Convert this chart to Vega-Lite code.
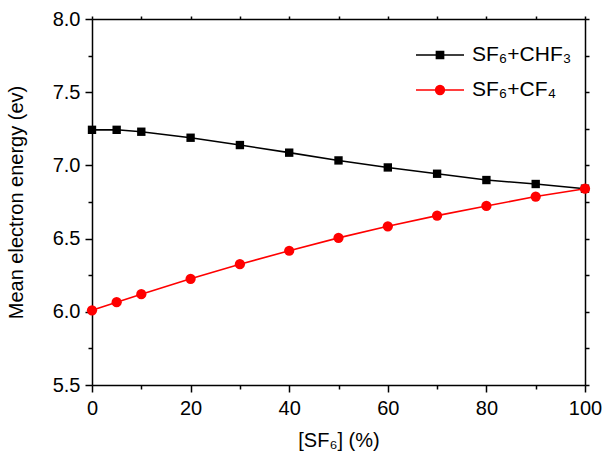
{
  "$schema": "https://vega.github.io/schema/vega-lite/v6.json",
  "width": 493,
  "height": 366,
  "autosize": {"type": "none"},
  "padding": {"left": 92, "top": 19, "right": 20, "bottom": 74},
  "background": "white",
  "config": {
    "view": {"stroke": null},
    "font": "Liberation Sans",
    "axis": {
      "domainColor": "black", "tickColor": "black", "labelColor": "black", "titleColor": "black",
      "labelFont": "Liberation Sans", "titleFont": "Liberation Sans",
      "labelFontSize": 20, "titleFontSize": 20, "titleFontWeight": "normal",
      "grid": false, "domainWidth": 1.5, "tickWidth": 1.5, "labelFlush": false, "labelOverlap": false
    }
  },
  "data": {"values": [
    {"x": 0, "y": 7.243, "s": "SF₆+CHF₃"},
    {"x": 5, "y": 7.243, "s": "SF₆+CHF₃"},
    {"x": 10, "y": 7.23, "s": "SF₆+CHF₃"},
    {"x": 20, "y": 7.189, "s": "SF₆+CHF₃"},
    {"x": 30, "y": 7.139, "s": "SF₆+CHF₃"},
    {"x": 40, "y": 7.087, "s": "SF₆+CHF₃"},
    {"x": 50, "y": 7.034, "s": "SF₆+CHF₃"},
    {"x": 60, "y": 6.986, "s": "SF₆+CHF₃"},
    {"x": 70, "y": 6.943, "s": "SF₆+CHF₃"},
    {"x": 80, "y": 6.9, "s": "SF₆+CHF₃"},
    {"x": 90, "y": 6.873, "s": "SF₆+CHF₃"},
    {"x": 100, "y": 6.841, "s": "SF₆+CHF₃"},
    {"x": 0, "y": 6.01, "s": "SF₆+CF₄"},
    {"x": 5, "y": 6.066, "s": "SF₆+CF₄"},
    {"x": 10, "y": 6.12, "s": "SF₆+CF₄"},
    {"x": 20, "y": 6.225, "s": "SF₆+CF₄"},
    {"x": 30, "y": 6.325, "s": "SF₆+CF₄"},
    {"x": 40, "y": 6.417, "s": "SF₆+CF₄"},
    {"x": 50, "y": 6.505, "s": "SF₆+CF₄"},
    {"x": 60, "y": 6.584, "s": "SF₆+CF₄"},
    {"x": 70, "y": 6.657, "s": "SF₆+CF₄"},
    {"x": 80, "y": 6.723, "s": "SF₆+CF₄"},
    {"x": 90, "y": 6.787, "s": "SF₆+CF₄"},
    {"x": 100, "y": 6.841, "s": "SF₆+CF₄"}
  ]},
  "layer": [
    {
      "mark": {"type": "line", "strokeWidth": 1.6},
      "encoding": {
        "x": {"field": "x", "type": "quantitative", "scale": {"domain": [0, 100], "nice": false},
          "axis": {"orient": "bottom", "values": [0, 20, 40, 60, 80, 100], "tickSize": 7, "labelPadding": 6,
            "title": "[SF₆] (%)", "titlePadding": 12}},
        "y": {"field": "y", "type": "quantitative", "scale": {"domain": [5.5, 8.0], "zero": false, "nice": false},
          "axis": {"orient": "left", "values": [5.5, 6, 6.5, 7, 7.5, 8], "format": ".1f", "tickSize": 7, "labelPadding": 5,
            "title": "Mean electron energy (ev)", "titlePadding": 26}},
        "color": {"field": "s", "type": "nominal",
          "scale": {"domain": ["SF₆+CHF₃", "SF₆+CF₄"], "range": ["black", "red"]}, "legend": null},
        "detail": {"field": "s"}
      }
    },
    {
      "transform": [{"filter": "datum.s === 'SF₆+CHF₃'"}],
      "mark": {"type": "point", "shape": "square", "filled": true, "size": 70, "opacity": 1},
      "encoding": {
        "x": {"field": "x", "type": "quantitative",
          "axis": {"orient": "bottom", "values": [10, 30, 50, 70, 90], "tickSize": 4, "labels": false, "domain": false, "title": null}},
        "y": {"field": "y", "type": "quantitative",
          "axis": {"orient": "left", "values": [5.75, 6.25, 6.75, 7.25, 7.75], "tickSize": 4, "labels": false, "domain": false, "title": null}},
        "color": {"field": "s", "type": "nominal", "legend": null}
      }
    },
    {
      "transform": [{"filter": "datum.s === 'SF₆+CF₄'"}],
      "mark": {"type": "point", "shape": "circle", "filled": true, "size": 105, "opacity": 1},
      "encoding": {
        "x": {"field": "x", "type": "quantitative",
          "axis": {"orient": "top", "values": [0, 10, 20, 30, 40, 50, 60, 70, 80, 90, 100], "tickSize": 3, "labels": false, "title": null}},
        "y": {"field": "y", "type": "quantitative",
          "axis": {"orient": "right", "values": [5.5, 5.75, 6, 6.25, 6.5, 6.75, 7, 7.25, 7.5, 7.75, 8], "tickSize": 4, "labels": false, "title": null}},
        "color": {"field": "s", "type": "nominal", "legend": null}
      }
    },
    {
      "mark": {"type": "point", "filled": true, "opacity": 0},
      "encoding": {
        "x": {"field": "x", "type": "quantitative", "axis": null},
        "y": {"field": "y", "type": "quantitative", "axis": null},
        "shape": {"field": "s", "type": "nominal",
          "scale": {"domain": ["SF₆+CHF₃", "SF₆+CF₄"],
            "range": ["M-2.4,0H2.4M-0.36,-0.36H0.36V0.36H-0.36Z",
                      "M-2.4,0H2.4M-0.44,0A0.44,0.44,0,1,0,0.44,0A0.44,0.44,0,1,0,-0.44,0Z"]},
          "legend": {"orient": "none", "legendX": 337, "legendY": 25, "title": null, "padding": 0,
            "labelFontSize": 21, "labelFont": "Liberation Sans", "labelColor": "black", "labelOffset": 21,
            "symbolSize": 400, "symbolStrokeWidth": 1.5, "symbolOpacity": 1, "rowPadding": 14}},
        "fill": {"field": "s", "type": "nominal",
          "scale": {"domain": ["SF₆+CHF₃", "SF₆+CF₄"], "range": ["black", "red"]},
          "legend": {"orient": "none", "legendX": 337, "legendY": 25, "title": null, "padding": 0,
            "labelFontSize": 21, "labelFont": "Liberation Sans", "labelColor": "black", "labelOffset": 21,
            "symbolSize": 400, "symbolStrokeWidth": 1.5, "symbolOpacity": 1, "rowPadding": 14}},
        "stroke": {"field": "s", "type": "nominal",
          "scale": {"domain": ["SF₆+CHF₃", "SF₆+CF₄"], "range": ["black", "red"]},
          "legend": {"orient": "none", "legendX": 337, "legendY": 25, "title": null, "padding": 0,
            "labelFontSize": 21, "labelFont": "Liberation Sans", "labelColor": "black", "labelOffset": 21,
            "symbolSize": 400, "symbolStrokeWidth": 1.5, "symbolOpacity": 1, "rowPadding": 14}}
      }
    }
  ],
  "resolve": {"axis": {"x": "independent", "y": "independent"},
    "scale": {"shape": "independent", "fill": "independent", "stroke": "independent"}}
}
